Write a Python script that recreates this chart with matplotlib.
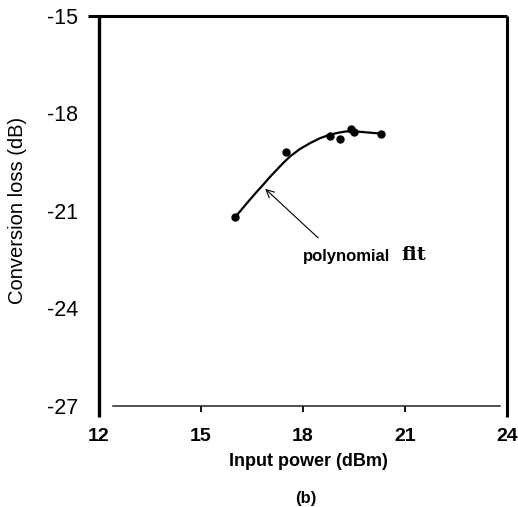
import matplotlib.pyplot as plt

# Messpunkte (Eingangsleistung in dBm, Konversionsverlust in dB)
p_in = [16.0, 17.5, 18.8, 19.1, 19.4, 19.5, 20.3]
loss = [-21.2, -19.2, -18.7, -18.8, -18.47, -18.57, -18.62]

# Polynomfit
fit_x = [16.0, 16.22, 16.44, 16.63, 16.83, 17.03, 17.23, 17.42, 17.62, 17.9, 18.21, 18.5,
         18.79, 19.05, 19.28, 19.53, 20.31]
fit_y = [-21.2, -20.92, -20.65, -20.42, -20.19, -19.95, -19.73, -19.52, -19.32, -19.1, -18.91,
         -18.76, -18.65, -18.59, -18.55, -18.55, -18.62]

x_ticks = [12, 15, 18, 21, 24]
y_ticks = [-15, -18, -21, -24, -27]

fig = plt.figure(figsize=(5.18, 5.07), dpi=100)
ax = fig.add_axes([99 / 518, 1 - 406 / 507, 408 / 518, 390 / 507])
ax.set_xlim(12, 24)
ax.set_ylim(-27, -15)
for s in ax.spines.values():
    s.set_visible(False)

# Rahmen als einzelne Linien
ax.plot([12, 12], [-15, -27.35], color="black", lw=2.4, clip_on=False, solid_capstyle="butt")
ax.plot([11.68, 24], [-15, -15], color="black", lw=2.2, clip_on=False, solid_capstyle="butt")
ax.plot([24, 24], [-15, -27.35], color="black", lw=2.2, clip_on=False, solid_capstyle="butt")
ax.plot([12.4, 23.8], [-27, -27], color="#222222", lw=1.1, clip_on=False)

ax.plot(fit_x, fit_y, color="black", lw=1.6)
ax.plot(p_in, loss, "o", color="black", ms=5)

ax.annotate("", xy=(16.83, -20.26), xytext=(18.5, -21.88),
            arrowprops=dict(arrowstyle="->", color="black", lw=0.8, mutation_scale=14))
ax.text(18.0, -22.4, "polynomial", fontsize=12, fontweight="bold",
        family="Liberation Sans", va="center", ha="left")
ax.text(20.88, -22.35, "fit", fontsize=14, fontweight="bold", family="DejaVu Serif",
        va="center", ha="left")

ax.set_xticks(x_ticks)
ax.set_yticks(y_ticks)
ax.set_xticklabels([str(t) for t in x_ticks], fontsize=14, fontweight="bold",
                   family="Liberation Sans")
ax.set_yticklabels([str(t) for t in y_ticks], fontsize=15.5, family="Liberation Sans")
ax.tick_params(axis="x", length=4, width=1.3, pad=12, direction="out")
ax.tick_params(axis="y", length=0, pad=15)

fig.text(18 / 518, 1 - 210 / 507, "Conversion loss (dB)", rotation=90, fontsize=14.5,
         family="Liberation Sans", ha="center", va="center")
fig.text(308 / 518, 1 - 462 / 507, "Input power (dBm)", fontsize=13, fontweight="bold",
         family="Liberation Sans", ha="center", va="center")
fig.text(306 / 518, 1 - 498 / 507, "(b)", fontsize=12, fontweight="bold",
         family="Liberation Sans", ha="center", va="center")

fig.savefig("out.png", dpi=100)
